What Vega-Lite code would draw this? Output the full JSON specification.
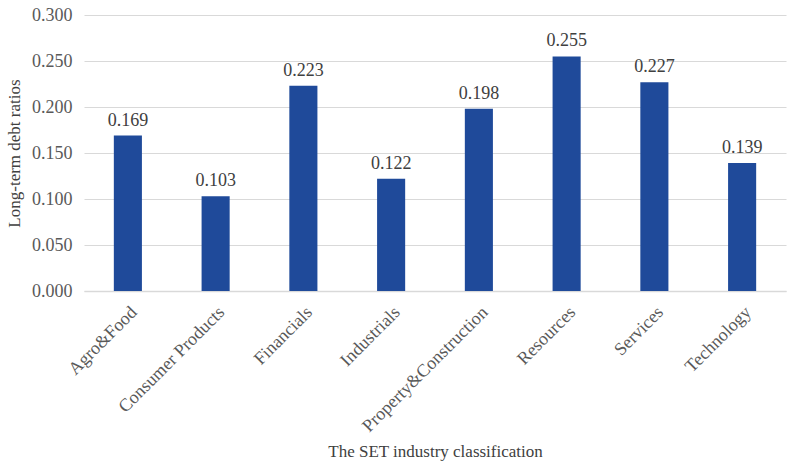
{
  "$schema": "https://vega.github.io/schema/vega-lite/v6.json",
  "width": 794,
  "height": 464,
  "autosize": {"type": "fit", "contains": "padding"},
  "padding": {"left": 5, "right": 8, "top": 6, "bottom": 4},
  "background": "white",
  "config": {
    "font": "Liberation Serif",
    "view": {"stroke": null},
    "text": {"font": "Liberation Serif"},
    "axis": {"labelFont": "Liberation Serif", "titleFont": "Liberation Serif", "labelColor": "#595959", "titleColor": "#404040", "titleFontWeight": "normal", "labelFontSize": 17, "titleFontSize": 17}
  },
  "data": {
    "values": [
      {"industry": "Agro&Food", "ratio": 0.169},
      {"industry": "Consumer Products", "ratio": 0.103},
      {"industry": "Financials", "ratio": 0.223},
      {"industry": "Industrials", "ratio": 0.122},
      {"industry": "Property&Construction", "ratio": 0.198},
      {"industry": "Resources", "ratio": 0.255},
      {"industry": "Services", "ratio": 0.227},
      {"industry": "Technology", "ratio": 0.139}
    ]
  },
  "encoding": {
    "x": {
      "field": "industry", "type": "nominal", "sort": null,
      "scale": {"paddingInner": 0.68, "paddingOuter": 0.34},
      "axis": {"title": "The SET industry classification", "labelAngle": -45, "labelAlign": "right", "labelBaseline": "top", "labelFontSize": 18, "ticks": false, "domainColor": "#d9d9d9", "domainWidth": 1.5, "labelPadding": 12, "titlePadding": 8}
    },
    "y": {
      "field": "ratio", "type": "quantitative",
      "scale": {"domain": [0, 0.3]},
      "axis": {"title": "Long-term debt ratios", "format": ".3f", "values": [0, 0.05, 0.1, 0.15, 0.2, 0.25, 0.3], "labelOverlap": false, "labelFontSize": 18, "domain": false, "ticks": false, "gridColor": "#d9d9d9", "gridWidth": 1.2, "labelPadding": 12, "titlePadding": 8}
    }
  },
  "layer": [
    {"mark": {"type": "bar", "color": "#1F4A9A"}},
    {"mark": {"type": "text", "dy": -15, "fontSize": 18, "color": "#404040", "font": "Liberation Serif"},
     "encoding": {"text": {"field": "ratio", "type": "quantitative", "format": ".3f"}}}
  ]
}
